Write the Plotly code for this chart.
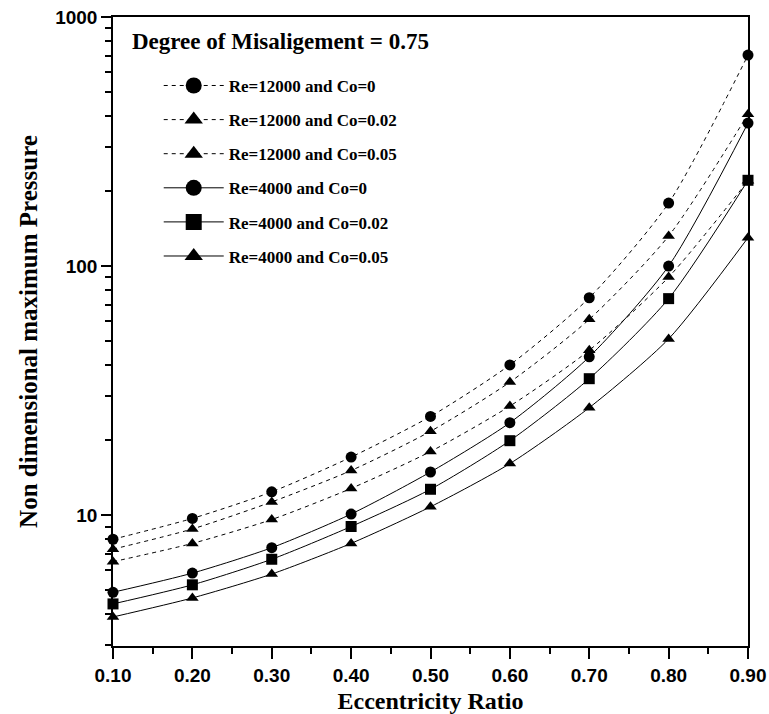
import plotly.graph_objects as go

# Eccentricity ratio (x) and non-dimensional maximum pressure for each case
eccentricity = [0.10, 0.20, 0.30, 0.40, 0.50, 0.60, 0.70, 0.80, 0.90]

re12000_co0 = [8.0, 9.7, 12.4, 17.1, 24.9, 40.1, 74.6, 179, 703]
re12000_co002 = [7.3, 8.8, 11.3, 15.1, 21.7, 34.2, 61.1, 132, 407]
re12000_co005 = [6.5, 7.7, 9.6, 12.8, 18.0, 27.4, 45.9, 90.3, 220]
re4000_co0 = [4.9, 5.85, 7.4, 10.1, 14.9, 23.5, 43.2, 100, 375]
re4000_co002 = [4.4, 5.25, 6.65, 9.0, 12.7, 19.9, 35.3, 74.0, 221]
re4000_co005 = [3.9, 4.65, 5.8, 7.7, 10.8, 16.1, 27.0, 51.0, 130]

series_names = [
    "Re=12000 and Co=0",
    "Re=12000 and Co=0.02",
    "Re=12000 and Co=0.05",
    "Re=4000 and Co=0",
    "Re=4000 and Co=0.02",
    "Re=4000 and Co=0.05",
]
series_values = [re12000_co0, re12000_co002, re12000_co005,
                 re4000_co0, re4000_co002, re4000_co005]
symbols = ["circle", "triangle-up", "triangle-up", "circle", "square", "triangle-up"]
dashes = ["4px,4px", "4px,4px", "4px,4px", "solid", "solid", "solid"]
marker_sizes = [11, 11, 11, 11, 11, 11]

y_major = [10, 100, 1000]
y_minor = [k * 10 ** e for e in (0, 1, 2) for k in range(2, 10) if k * 10 ** e >= 3]
x_ticks = eccentricity

SERIF = "Liberation Serif"
SANS = "Liberation Sans"

fig = go.Figure()

for name, vals, sym, dash, ms in zip(series_names, series_values, symbols, dashes, marker_sizes):
    fig.add_trace(go.Scatter(
        x=eccentricity, y=vals, mode="lines+markers", name=name,
        line=dict(color="black", width=1, dash=dash, shape="spline", smoothing=0.7),
        marker=dict(symbol=sym, size=ms, color="black"),
        cliponaxis=False, showlegend=False,
    ))

# legend entries with larger keys
for i, (name, sym, dash) in enumerate(zip(series_names, symbols, dashes)):
    fig.add_trace(go.Scatter(
        x=[None], y=[None], mode="lines+markers", name=name,
        legendgroup=f"g{i}",
        line=dict(color="black", width=1, dash=dash),
        marker=dict(symbol=sym, size=16, color="black"),
    ))

fig.update_layout(
    width=769, height=714,
    margin=dict(l=113, r=21, t=17, b=68, autoexpand=False),
    paper_bgcolor="white", plot_bgcolor="white",
    showlegend=True,
    legend=dict(
        x=0.072, y=0.919, xanchor="left", yanchor="top",
        bgcolor="rgba(0,0,0,0)", borderwidth=0,
        font=dict(family=SERIF, size=17, color="black", weight="bold"),
        tracegroupgap=9, itemwidth=60,
    ),
    annotations=[dict(
        text="Degree of Misaligement = 0.75",
        xref="paper", yref="paper", x=0.027, y=0.961,
        xanchor="left", yanchor="middle", showarrow=False,
        font=dict(family=SERIF, size=23, color="black", weight="bold"),
    )],
)

fig.update_xaxes(
    range=[0.10, 0.90], automargin=False,
    tickvals=x_ticks, ticktext=[f"{v:.2f}" for v in x_ticks],
    ticks="outside", ticklen=11, tickwidth=1.5, tickcolor="black",
    minor=dict(dtick=0.05, ticks="outside", ticklen=6, tickwidth=1.5, tickcolor="black"),
    showline=True, linecolor="black", linewidth=1.5, mirror=True,
    showgrid=False, zeroline=False,
    tickfont=dict(family=SANS, size=19, color="black", weight="bold"),
    title=dict(text="Eccentricity Ratio", standoff=8,
               font=dict(family=SERIF, size=24, color="black", weight="bold")),
)

fig.update_yaxes(
    type="log", range=[0.4745, 3.0], automargin=False,
    tickvals=y_major, ticktext=[str(v) for v in y_major],
    ticks="outside", ticklen=10, tickwidth=1.5, tickcolor="black",
    minor=dict(tickvals=y_minor, ticks="outside", ticklen=6, tickwidth=1.5, tickcolor="black"),
    showline=True, linecolor="black", linewidth=1.5, mirror=True,
    showgrid=False, zeroline=False,
    tickfont=dict(family=SANS, size=19, color="black", weight="bold"),
    title=dict(text="Non dimensional maximum Pressure", standoff=10,
               font=dict(family=SERIF, size=25, color="black", weight="bold")),
)

fig.write_html("out.html")
